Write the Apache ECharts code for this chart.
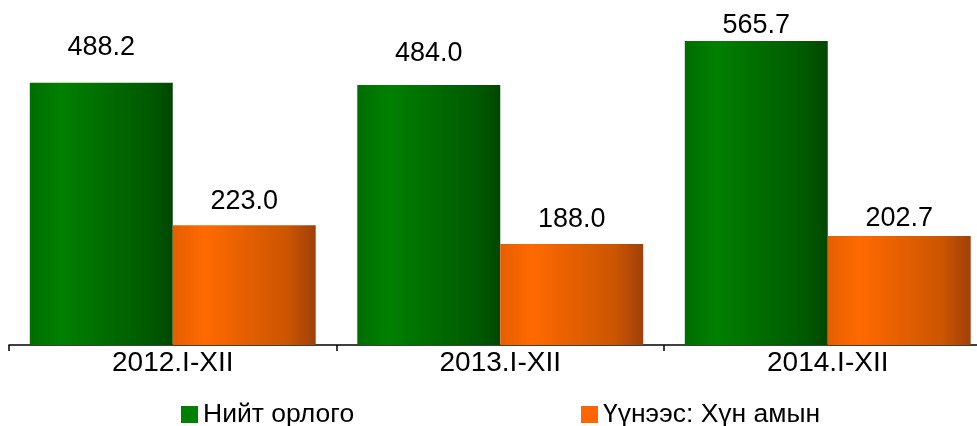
<!DOCTYPE html>
<html>
<head>
<meta charset="utf-8">
<script src="https://cdn.jsdelivr.net/npm/echarts@6/dist/echarts.min.js"></script>
<style>
html,body{margin:0;padding:0;background:#fff;}
#c{width:977px;height:426px;}
</style>
</head>
<body>
<div id="c"></div>
<script>
var categories = ['2012.I-XII', '2013.I-XII', '2014.I-XII'];
var seriesNames = ['Нийт орлого', 'Үүнээс: Хүн амын'];
var totalIncome = [488.2, 484.0, 565.7];
var fromPopulation = [223.0, 188.0, 202.7];

// label distances above bars (styling only)
var greenLabelDist = [22, 17.5, 1.5];
var orangeLabelDist = [10.5, 10.5, 4.5];

var FONT = '"Liberation Sans", Arial, sans-serif';

function grad(stops) {
  return new echarts.graphic.LinearGradient(0, 0, 1, 0, stops);
}
var greenGrad = grad([
  {offset: 0, color: '#006d00'},
  {offset: 0.22, color: '#008000'},
  {offset: 0.88, color: '#005600'},
  {offset: 1, color: '#004600'}
]);
var orangeGrad = grad([
  {offset: 0, color: '#e65e00'},
  {offset: 0.22, color: '#ff6a00'},
  {offset: 0.8, color: '#cc5500'},
  {offset: 1, color: '#a0400a'}
]);

function mkData(vals, dists) {
  return vals.map(function (v, i) {
    return {value: v, label: {distance: dists[i]}};
  });
}

var legendText = {fontFamily: FONT, fontSize: 26.5, color: '#000'};

var chart = echarts.init(document.getElementById('c'));
chart.setOption({
  animation: false,
  backgroundColor: '#fff',
  grid: {left: 9, width: 982.5, top: 22.6, bottom: 81, containLabel: false, outerBoundsMode: 'none'},
  legend: [
    {
      data: [{name: seriesNames[0], icon: 'rect', itemStyle: {color: '#008000'}}],
      left: 181, top: 401, padding: 0,
      itemWidth: 17, itemHeight: 17, itemGap: 0,
      textStyle: legendText
    },
    {
      data: [{name: seriesNames[1], icon: 'rect', itemStyle: {color: '#ff6600'}}],
      left: 581, top: 401, padding: 0,
      itemWidth: 17, itemHeight: 17, itemGap: 0,
      textStyle: legendText
    }
  ],
  xAxis: {
    type: 'category',
    data: categories,
    boundaryGap: true,
    axisLine: {show: true, lineStyle: {color: '#000', width: 1.5}},
    axisTick: {show: true, length: 6, lineStyle: {color: '#000', width: 1.5}},
    axisLabel: {fontFamily: FONT, fontSize: 28, color: '#000', margin: 4}
  },
  yAxis: {
    type: 'value', min: 0, max: 600,
    show: false,
    splitLine: {show: false}
  },
  series: [
    {
      name: seriesNames[0], type: 'bar',
      data: mkData(totalIncome, greenLabelDist),
      barGap: '0%', barCategoryGap: '12.7%',
      itemStyle: {color: greenGrad},
      label: {show: true, position: 'top', fontFamily: FONT, fontSize: 27, color: '#000',
        formatter: function (p) { return p.value.toFixed(1); }}
    },
    {
      name: seriesNames[1], type: 'bar',
      data: mkData(fromPopulation, orangeLabelDist),
      barGap: '0%', barCategoryGap: '12.7%',
      itemStyle: {color: orangeGrad},
      label: {show: true, position: 'top', fontFamily: FONT, fontSize: 27, color: '#000',
        formatter: function (p) { return p.value.toFixed(1); }}
    }
  ]
});
</script>
</body>
</html>
